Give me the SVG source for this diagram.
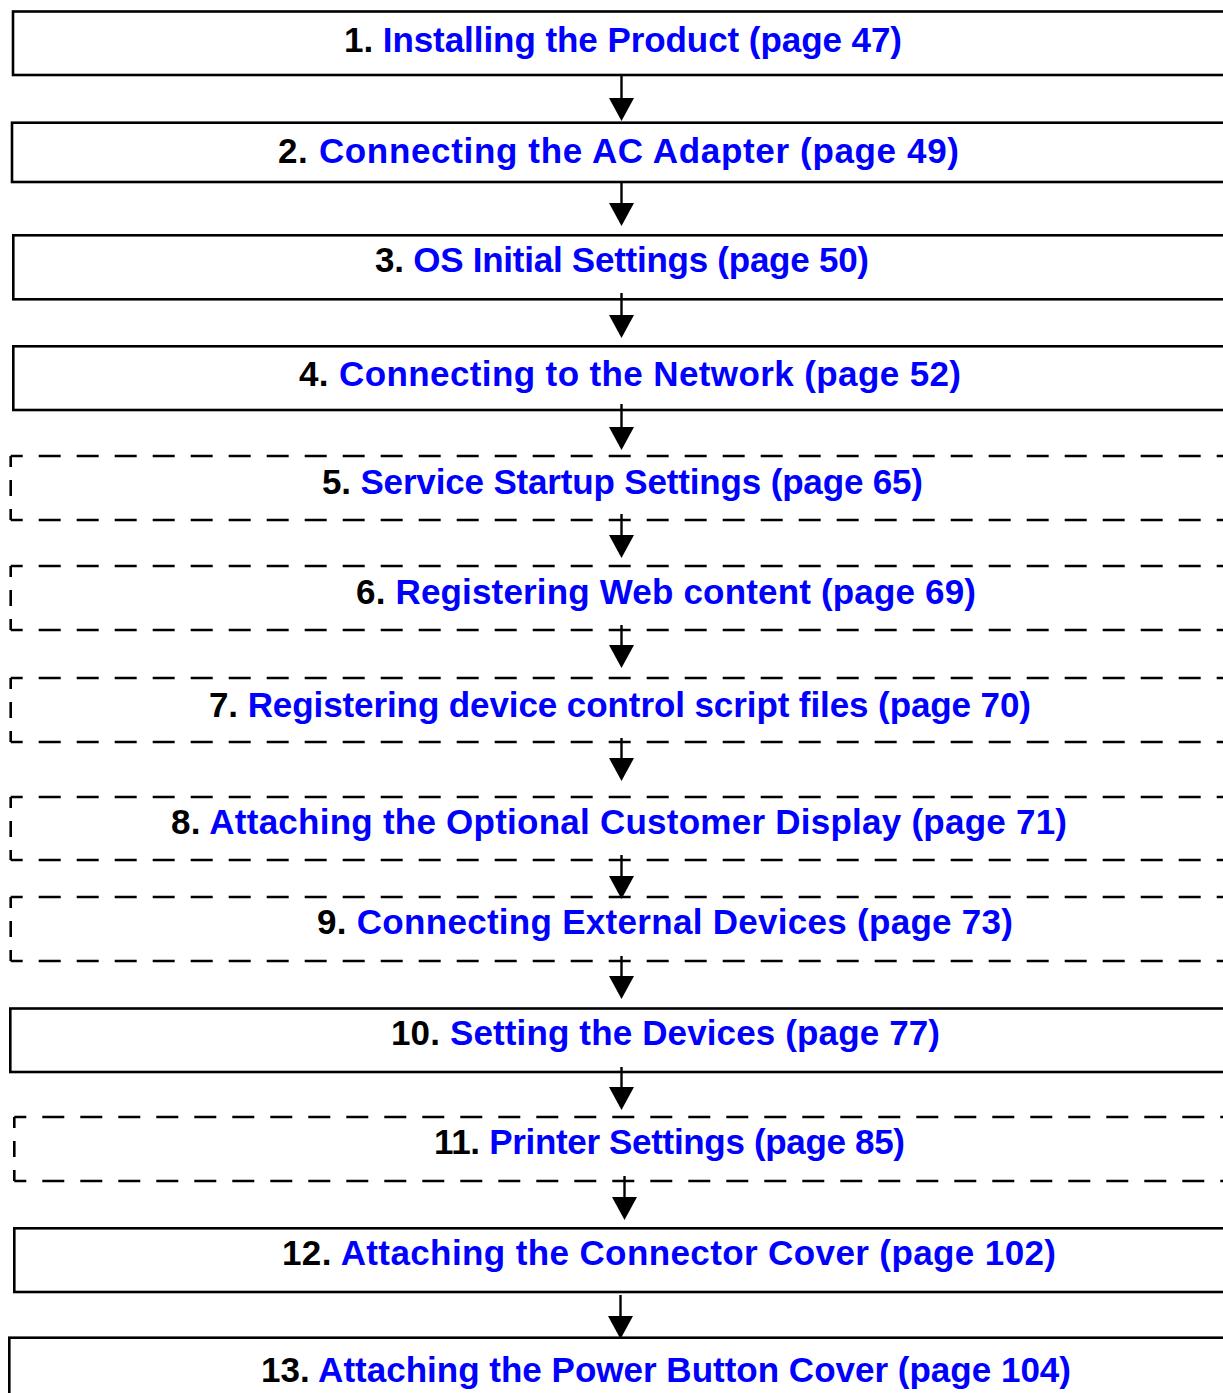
<svg xmlns="http://www.w3.org/2000/svg" width="1223" height="1393" viewBox="0 0 1223 1393">
<style>
.box{fill:none;stroke:#000;stroke-width:2.6}
.dh{fill:none;stroke:#000;stroke-width:2.6;stroke-dasharray:22 16;stroke-dashoffset:10}
.dv{fill:none;stroke:#000;stroke-width:2.6;stroke-dasharray:11 13 16 13 11 100}
.lbl{font-family:"Liberation Sans",Arial,sans-serif;font-weight:bold;font-size:35px;fill:#0000ff}
.num{fill:#000}
.arr{fill:none;stroke:#000;stroke-width:2.4;marker-end:url(#ah)}
</style>
<defs>
<marker id="ah" markerUnits="userSpaceOnUse" markerWidth="23" markerHeight="25" viewBox="0 0 23 25" refX="0" refY="12.5" orient="auto">
<path d="M0,0 L23,12.5 L0,25 Z" fill="#000"/>
</marker>
</defs>
<rect width="1223" height="1393" fill="#fff"/>
<g id="connectors">
<line class="arr" x1="621.5" y1="75" x2="621.5" y2="98"/>
<line class="arr" x1="621.5" y1="182" x2="621.5" y2="203"/>
<line class="arr" x1="621.5" y1="293" x2="621.5" y2="315"/>
<line class="arr" x1="621.5" y1="404" x2="621.5" y2="427"/>
<line class="arr" x1="621.5" y1="514" x2="621.5" y2="535"/>
<line class="arr" x1="621.5" y1="625" x2="621.5" y2="645"/>
<line class="arr" x1="621.5" y1="738" x2="621.5" y2="758"/>
<line class="arr" x1="621.5" y1="855" x2="621.5" y2="876"/>
<line class="arr" x1="621.5" y1="956" x2="621.5" y2="976"/>
<line class="arr" x1="621.5" y1="1067" x2="621.5" y2="1087"/>
<line class="arr" x1="624.5" y1="1176" x2="624.5" y2="1197"/>
<line class="arr" x1="620.5" y1="1295" x2="620.5" y2="1316"/>
</g>
<g id="n1">
<rect class="box" x="13" y="11.5" width="1230" height="63.5"/>
<text class="lbl" x="344" y="52" textLength="558"><tspan class="num">1. </tspan>Installing the Product (page 47)</text>
</g>
<g id="n2">
<rect class="box" x="12" y="122.7" width="1230" height="59.3"/>
<text class="lbl" x="278" y="163" textLength="681"><tspan class="num">2. </tspan>Connecting the AC Adapter (page 49)</text>
</g>
<g id="n3">
<rect class="box" x="13.3" y="235.3" width="1230" height="64"/>
<text class="lbl" x="375" y="272" textLength="494"><tspan class="num">3. </tspan>OS Initial Settings (page 50)</text>
</g>
<g id="n4">
<rect class="box" x="13.3" y="346.3" width="1230" height="63.7"/>
<text class="lbl" x="299" y="386" textLength="662"><tspan class="num">4. </tspan>Connecting to the Network (page 52)</text>
</g>
<g id="n5">
<line class="dh" x1="10.7" y1="456" x2="1240" y2="456"/>
<line class="dh" x1="10.7" y1="520" x2="1240" y2="520"/>
<line class="dv" x1="10.7" y1="456" x2="10.7" y2="520"/>
<text class="lbl" x="322" y="494" textLength="601"><tspan class="num">5. </tspan>Service Startup Settings (page 65)</text>
</g>
<g id="n6">
<line class="dh" x1="10.7" y1="566" x2="1240" y2="566"/>
<line class="dh" x1="10.7" y1="630" x2="1240" y2="630"/>
<line class="dv" x1="10.7" y1="566" x2="10.7" y2="630"/>
<text class="lbl" x="356" y="604" textLength="620"><tspan class="num">6. </tspan>Registering Web content (page 69)</text>
</g>
<g id="n7">
<line class="dh" x1="10.7" y1="678" x2="1240" y2="678"/>
<line class="dh" x1="10.7" y1="742" x2="1240" y2="742"/>
<line class="dv" x1="10.7" y1="678" x2="10.7" y2="742"/>
<text class="lbl" x="209" y="717" textLength="822"><tspan class="num">7. </tspan>Registering device control script files (page 70)</text>
</g>
<g id="n8">
<line class="dh" x1="10.7" y1="797" x2="1240" y2="797"/>
<line class="dh" x1="10.7" y1="860" x2="1240" y2="860"/>
<line class="dv" x1="10.7" y1="797" x2="10.7" y2="860"/>
<text class="lbl" x="171" y="834" textLength="896"><tspan class="num">8. </tspan>Attaching the Optional Customer Display (page 71)</text>
</g>
<g id="n9">
<line class="dh" x1="10.7" y1="897" x2="1240" y2="897"/>
<line class="dh" x1="10.7" y1="961" x2="1240" y2="961"/>
<line class="dv" x1="10.7" y1="897" x2="10.7" y2="961"/>
<text class="lbl" x="317" y="934" textLength="696"><tspan class="num">9. </tspan>Connecting External Devices (page 73)</text>
</g>
<g id="n10">
<rect class="box" x="10.3" y="1008.5" width="1230" height="63.5"/>
<text class="lbl" x="391" y="1045" textLength="549"><tspan class="num">10. </tspan>Setting the Devices (page 77)</text>
</g>
<g id="n11">
<line class="dh" x1="14.3" y1="1117" x2="1240" y2="1117"/>
<line class="dh" x1="14.3" y1="1181" x2="1240" y2="1181"/>
<line class="dv" x1="14.3" y1="1117" x2="14.3" y2="1181"/>
<text class="lbl" x="434" y="1154" textLength="471"><tspan class="num">11. </tspan>Printer Settings (page 85)</text>
</g>
<g id="n12">
<rect class="box" x="14.3" y="1228.3" width="1230" height="63.7"/>
<text class="lbl" x="282" y="1265" textLength="774"><tspan class="num">12. </tspan>Attaching the Connector Cover (page 102)</text>
</g>
<g id="n13">
<rect class="box" x="9.3" y="1337.7" width="1230" height="100"/>
<text class="lbl" x="261" y="1382" textLength="810"><tspan class="num">13. </tspan>Attaching the Power Button Cover (page 104)</text>
</g>
</svg>
